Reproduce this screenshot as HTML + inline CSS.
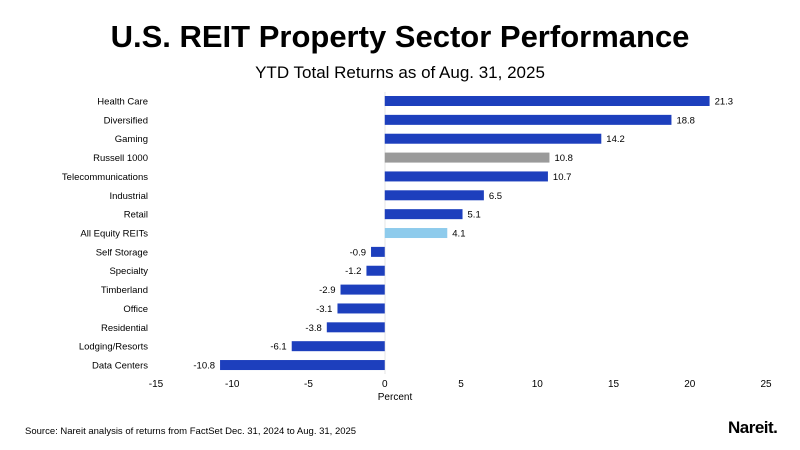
<!DOCTYPE html>
<html><head><meta charset="utf-8"><style>
body{margin:0;background:#fff;font-family:"Liberation Sans",Arial,sans-serif}
svg text{font-family:"Liberation Sans",Arial,sans-serif}
</style></head><body>
<svg id="c" width="800" height="445" xmlns="http://www.w3.org/2000/svg">
<text x="400" y="47" text-anchor="middle" font-size="31" font-weight="bold" fill="#000">U.S. REIT Property Sector Performance</text>
<text x="400" y="78" text-anchor="middle" font-size="17" fill="#000">YTD Total Returns as of Aug. 31, 2025</text>
<line x1="385" y1="92" x2="385" y2="374" stroke="#e6e6e6"/>
<g id="bars"></g>
<g id="ticks"></g>
<text x="395" y="400" text-anchor="middle" font-size="10">Percent</text>
<text x="25" y="434" font-size="9.5">Source: Nareit analysis of returns from FactSet Dec. 31, 2024 to Aug. 31, 2025</text>
<text x="728" y="433" font-size="17" font-weight="bold" letter-spacing="-0.5">Nareit.</text>
</svg>
<script>
const categories=["Health Care","Diversified","Gaming","Russell 1000","Telecommunications","Industrial","Retail","All Equity REITs","Self Storage","Specialty","Timberland","Office","Residential","Lodging/Resorts","Data Centers"];
const values=[21.3,18.8,14.2,10.8,10.7,6.5,5.1,4.1,-0.9,-1.2,-2.9,-3.1,-3.8,-6.1,-10.8];
const tickValues=[-15,-10,-5,0,5,10,15,20,25];
const NS="http://www.w3.org/2000/svg";
const x=v=>384.75+v*15.25;
const y=i=>101+i*18.86;
function mk(t,a,p){const e=document.createElementNS(NS,t);for(const k in a)e.setAttribute(k,a[k]);p.appendChild(e);return e;}
const bars=document.getElementById('bars');
categories.forEach((c,i)=>{
  const v=values[i];
  const col=c==="Russell 1000"?"#9a9a9a":c==="All Equity REITs"?"#8ecbec":"#1d3fbd";
  const r=mk('rect',{x:Math.min(x(0),x(v)),y:y(i)-5,width:Math.abs(x(v)-x(0)),height:10,fill:col},bars);
  
  
  const l=mk('text',{x:148,y:y(i)+3.5,'text-anchor':'end','font-size':'9.5'},bars);l.textContent=c;
  
  
  const vl=mk('text',{x:v>=0?x(v)+5:x(v)-5,y:y(i)+3.5,'text-anchor':v>=0?'start':'end','font-size':'9.5'},bars);vl.textContent=v.toFixed(1);
  
  
});
const tg=document.getElementById('ticks');
tickValues.forEach(t=>{
  const e=mk('text',{x:x(t),y:387,'text-anchor':'middle','font-size':'10'},tg);e.textContent=t;
  
  
});
</script>
</body></html>
